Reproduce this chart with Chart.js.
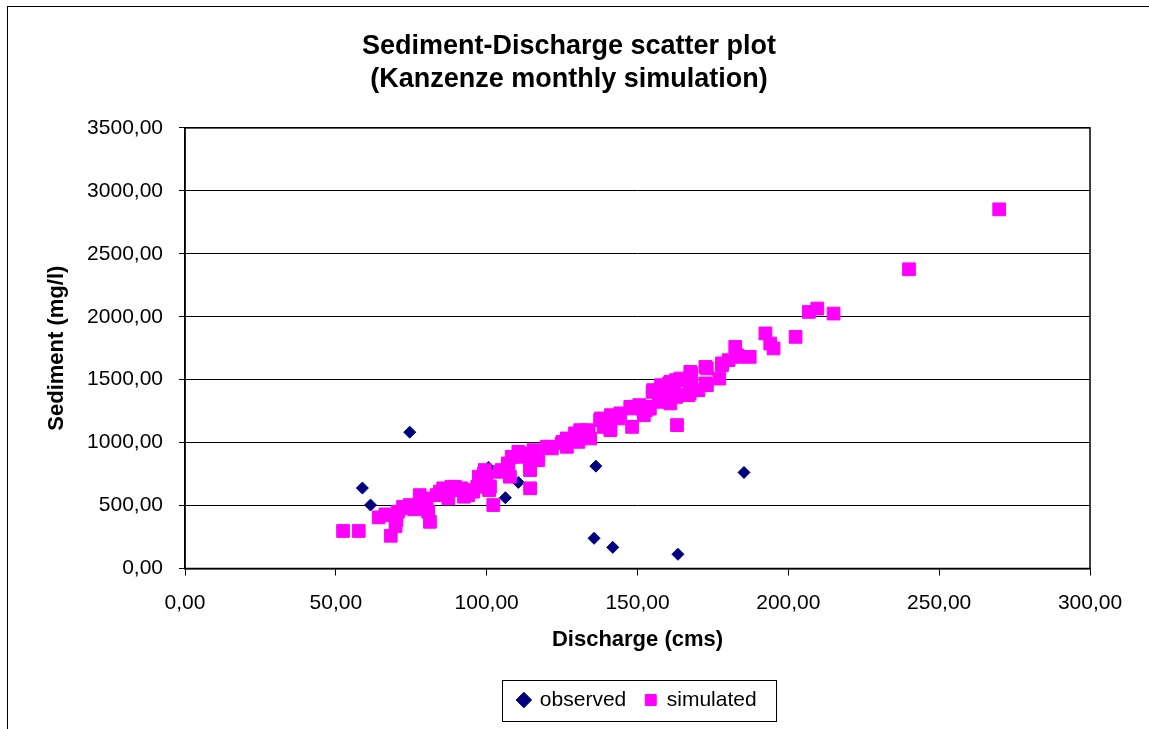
<!DOCTYPE html>
<html>
<head>
<meta charset="utf-8">
<script src="https://cdn.jsdelivr.net/npm/chart.js@4/dist/chart.umd.min.js"></script>
<style>
html,body{margin:0;padding:0;background:#fff;}
#wrap{width:1149px;height:729px;}
</style>
</head>
<body>
<div id="wrap"><canvas id="chart" width="1149" height="729"></canvas></div>
<script>
// observed samples (discharge cms, sediment mg/l)
const obsQ=[58.8,61.5,74.5,77.5,100.6,106.2,110.5,135.6,136.2,141.8,163.4,185.3];
const obsSed=[639,504,1083,517,803,562,684,240,813,168,113,763];

// simulated monthly values
const simQ=[52.4,57.6,64.2,66.5,68.2,68.5,69.8,70.1,70.6,72.3,72.9,74.5,76.0,77.8,78.4,79.5,80.1,80.6,81.2,83.4,
84.5,85.6,86.1,87.3,88.3,89.5,89.7,91.1,91.6,92.5,93.0,93.9,95.5,96.9,97.4,97.8,98.6,99.1,99.4,100.0,
100.8,101.1,102.2,104.4,105.0,107.0,107.2,107.7,108.3,110.5,111.6,112.5,113.8,114.4,114.4,114.4,115.5,117.1,119.9,121.0,
121.6,124.9,125.2,126.6,126.6,127.1,129.3,129.9,130.4,131.0,133.2,133.8,134.3,137.6,137.9,138.8,141.0,141.2,141.0,143.7,
144.3,147.6,147.9,148.2,149.9,150.6,152.0,152.1,152.8,153.7,154.1,155.0,155.2,157.0,157.5,157.8,158.7,158.7,159.5,160.5,
160.9,160.9,162.2,162.8,162.8,163.1,163.6,164.2,165.8,166.9,167.3,167.5,167.8,167.8,170.2,172.5,172.5,173.0,173.0,177.1,
178.0,178.0,180.2,182.4,183.0,183.0,187.2,192.4,194.0,195.1,202.4,206.8,209.6,215.0,240.0,269.9];
const simSed=[298,298,406,430,260,425,337,385,451,490,477,504,470,583,520,557,478,451,371,583,
610,637,623,557,649,649,623,623,637,570,623,583,610,649,729,689,716,755,782,729,
623,649,504,768,782,835,821,729,887,927,887,900,914,808,782,637,940,861,967,967,
954,994,1006,1033,967,1020,1073,1033,1006,1099,1099,1085,1033,1179,1192,1125,1099,1218,1113,1192,
1232,1284,1271,1125,1284,1298,1258,1218,1258,1284,1270,1403,1417,1324,1363,1456,1440,1337,1363,1470,
1483,1311,1470,1496,1363,1139,1377,1509,1496,1377,1390,1562,1549,1483,1417,1601,1470,1456,1589,1509,
1615,1629,1655,1760,1681,1694,1681,1867,1787,1748,1840,2038,2065,2025,2377,2853];

const xTicks=[0,50,100,150,200,250,300];
const yTicks=[0,500,1000,1500,2000,2500,3000,3500];

const fmt=v=>Number(v).toFixed(2).replace(".",",");

Chart.defaults.font.family="'Liberation Sans', Arial, sans-serif";
Chart.defaults.color="#000";

const frame={
id:"frame",
beforeDraw(chart){
const c=chart.ctx;
c.save();
c.fillStyle="#fff";
c.fillRect(0,0,chart.width,chart.height);
c.strokeStyle="#000";
c.lineWidth=1;
c.strokeRect(7.5,6.5,chart.width+20,chart.height+20);
c.restore();
},
beforeDatasetsDraw(chart){
const a=chart.chartArea,c=chart.ctx;
c.save();
c.strokeStyle="#000";
c.lineWidth=1.5;
c.strokeRect(a.left,a.top,a.right-a.left,a.bottom-a.top);
c.restore();
},
afterDraw(chart){
const hb=chart.legend&&chart.legend.legendHitBoxes;
if(!hb||!hb.length)return;
const c=chart.ctx;
const last=hb[hb.length-1];
const l=Math.round(hb[0].left-16)+.5;
const r=Math.round(last.left+last.width+19)+.5;
const t=Math.round(hb[0].top-10)+.5;
const b=Math.round(hb[0].top+hb[0].height+10)+.5;
c.save();
c.strokeStyle="#000";
c.lineWidth=1;
c.strokeRect(l,t,r-l,b-t);
c.restore();
}
};

new Chart(document.getElementById("chart"),{
type:"scatter",
data:{
datasets:[
{label:"observed",data:obsQ.map((q,i)=>({x:q,y:obsSed[i]})),pointStyle:"rectRot",pointRadius:6,borderWidth:1,
backgroundColor:"#000080",borderColor:"#000080",order:2},
{label:"simulated",data:simQ.map((q,i)=>({x:q,y:simSed[i]})),pointStyle:"rect",pointRadius:9,borderWidth:1,
backgroundColor:"#FF00FF",borderColor:"#FF00FF",order:1}
]
},
options:{
responsive:false,
animation:false,
events:[],
layout:{padding:{left:0,right:11,top:0,bottom:8.5}},
plugins:{
title:{display:true,text:["Sediment-Discharge scatter plot","(Kanzenze monthly simulation)"],color:"#000",
font:{size:27,weight:"bold",lineHeight:1.22},padding:{top:30.5,bottom:31.5}},
legend:{display:true,position:"bottom",fullSize:false,
labels:{usePointStyle:true,boxWidth:11,boxHeight:11,padding:19,color:"#000",font:{size:21},
sort:(a,b)=>a.datasetIndex-b.datasetIndex}},
tooltip:{enabled:false}
},
scales:{
x:{type:"linear",min:0,max:300,
afterBuildTicks:s=>{s.ticks=xTicks.map(v=>({value:v}));},
afterFit:s=>{s.height=102;s.paddingLeft=0;s.paddingRight=59;},
grid:{drawOnChartArea:false,drawTicks:true,tickLength:7,color:"#000",lineWidth:1},
border:{display:true,color:"#000",width:1.5},
ticks:{padding:15,color:"#000",font:{size:21},maxRotation:0,autoSkip:false,callback:fmt},
title:{display:true,text:"Discharge (cms)",color:"#000",font:{size:22,weight:"bold"},padding:{top:0,bottom:17.3}}
},
y:{type:"linear",min:0,max:3500,
afterBuildTicks:s=>{s.ticks=yTicks.map(v=>({value:v}));},
afterFit:s=>{s.width=185;s.paddingTop=0;s.paddingBottom=0;},
grid:{color:"#000",lineWidth:1,drawTicks:true,tickLength:6},
border:{display:true,color:"#000",width:1.5},
ticks:{padding:16,color:"#000",font:{size:21},autoSkip:false,callback:fmt},
title:{display:true,text:"Sediment (mg/l)",color:"#000",font:{size:22,weight:"bold"},padding:{top:43.8,bottom:0}}
}
}
},
plugins:[frame]
});
</script>
</body>
</html>
